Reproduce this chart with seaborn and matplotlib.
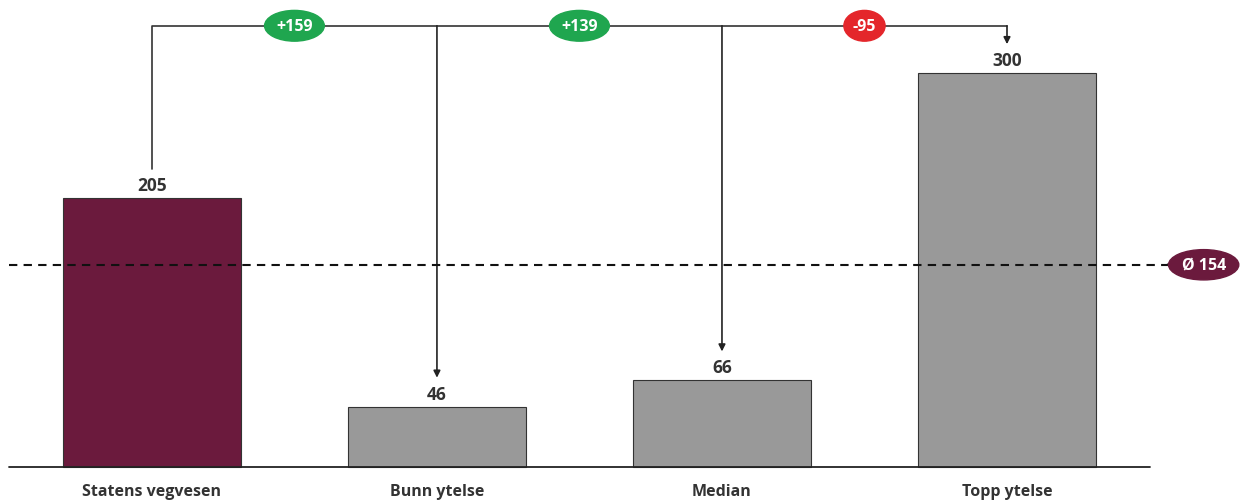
import matplotlib
matplotlib.use("Agg")
import matplotlib.pyplot as plt
import seaborn as sns
import pandas as pd

# Cost per unit by group
categories = ["Statens vegvesen", "Bunn ytelse", "Median", "Topp ytelse"]
values = [205, 46, 66, 300]
average = 154
bar_colors = ["#6b1a3d", "#999999", "#999999", "#999999"]

sns.set_theme(style="white")
plt.rcParams["font.family"] = ["Open Sans", "DejaVu Sans"]

df = pd.DataFrame({"category": categories, "value": values})

fig = plt.figure(figsize=(12.41, 5.02), dpi=100)
ax = fig.add_axes([0, 0, 1, 1])

sns.barplot(data=df, x="category", y="value", hue="category",
            palette=bar_colors, saturation=1, width=0.625,
            edgecolor="#333333", linewidth=0.8, legend=False, ax=ax,
            zorder=2)

ax.set_xlim(-0.533, 3.821)
ax.set_ylim(-25.9, 356.4)
ax.axis("off")

# baseline
ax.plot([-0.5, 3.5], [0, 0], color="#222222", lw=1.3, zorder=3)

# value and category labels
for i, (c, v) in enumerate(zip(categories, values)):
    ax.text(i, v + 3, f"{v}", ha="center", va="bottom", fontsize=12.5,
            fontweight="bold", color="#333333")
    ax.text(i, -18.5, c, ha="center", va="center", fontsize=11.5,
            fontweight="bold", color="#333333")

# average line with marker
ax.plot([-0.5, 3.56], [average, average], color="#111111", lw=1.5,
        ls=(0, (4, 3)), zorder=4)
ax.annotate("", xy=(3.545, average), xytext=(3.60, average),
            arrowprops=dict(arrowstyle="-|>", color="#111111", lw=1.2,
                            mutation_scale=10))
ax.text(3.69, average, f"Ø {average}", ha="center", va="center",
        fontsize=11.5, fontweight="bold", color="white", zorder=6,
        bbox=dict(boxstyle="ellipse,pad=0.17", fc="#6b1a3d", ec="#6b1a3d"))

# connector from reference bar to others
top = 336
gap = 22
ref = values[0]
ax.plot([0, 0, 3], [ref + gap, top, top], color="#333333", lw=1.2, zorder=3)
for i in range(1, len(values)):
    ax.annotate("", xy=(i, values[i] + gap), xytext=(i, top),
                arrowprops=dict(arrowstyle="-|>", color="#222222", lw=1.2,
                                mutation_scale=10, shrinkA=0, shrinkB=0))
    delta = ref - values[i]
    fc = "#1fa64f" if delta > 0 else "#e4262b"
    ax.text(i - 0.5, top, f"{delta:+d}", ha="center", va="center",
            fontsize=11.5, fontweight="bold", color="white", zorder=5,
            bbox=dict(boxstyle="ellipse,pad=0.18", fc=fc, ec=fc))

fig.savefig("out.png", dpi=100, facecolor="white")
